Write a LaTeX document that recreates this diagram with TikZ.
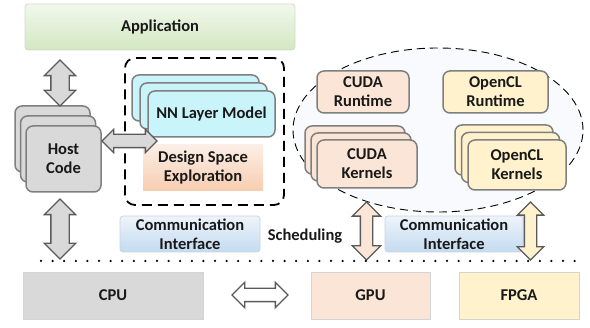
\documentclass[tikz,border=0pt]{standalone}
\usepackage{fontspec}
\setmainfont{Carlito}
\usepackage{tikz}
\usetikzlibrary{shapes.geometric}
\usetikzlibrary{shapes.arrows}
\usetikzlibrary{positioning}
\definecolor{appTop}{HTML}{F1F8EC}
\definecolor{appBottom}{HTML}{D2E8C1}
\definecolor{appBorder}{HTML}{D3D9CF}
\definecolor{hostBody}{HTML}{D9D9D9}
\definecolor{nnBody}{HTML}{C8F4FA}
\definecolor{cudaBody}{HTML}{FBE5D6}
\definecolor{oclBody}{HTML}{FFF2CC}
\definecolor{dseTop}{HTML}{FCEEE6}
\definecolor{dseBottom}{HTML}{F7CDB0}
\definecolor{commTop}{HTML}{EEF4FB}
\definecolor{commBottom}{HTML}{C3DBF0}
\definecolor{commBorder}{HTML}{C9D3E0}
\definecolor{cardBorder}{HTML}{7F7F7F}
\definecolor{flatBorder}{HTML}{D4D4D4}
\definecolor{arrowBorder}{HTML}{5A5A5A}
\definecolor{cloudBody}{HTML}{F8FAFD}
\tikzstyle{card} = [rectangle, rounded corners=7pt, draw=cardBorder, line width=1.5pt, align=center]
\tikzstyle{flat} = [rectangle, draw=flatBorder, line width=0.7pt, align=center]
\tikzstyle{fatarrow} = [double arrow, draw=arrowBorder, line width=1.3pt, inner xsep=0pt,
        double arrow head indent=0pt]

\begin{document}
\begin{tikzpicture}[
            x=1pt, y=-1pt,
            every node/.style={font=\fontsize{16.5}{19}\selectfont\bfseries, text=black!90},
            ]
            \useasboundingbox (0,0) rectangle (590,328);
            \node [flat, rounded corners=3pt, draw=appBorder, top color=appTop, bottom color=appBottom,
                minimum width=270pt, minimum height=46pt] (app) at (160,27) {Application};
            \node [rectangle, rounded corners=10pt, draw=black, line width=1.8pt, dash pattern=on 10pt off 6pt,
                minimum width=159pt, minimum height=147pt] (dse-group) at (204.5,131.5) {};
            \node [ellipse, draw=black, fill=cloudBody, line width=0.9pt, dash pattern=on 8pt off 5pt,
                minimum width=290pt, minimum height=164pt] (devices) at (438,130) {};
            \node [card, fill=hostBody, minimum width=75pt, minimum height=66pt] (host-3) at (52.5,139) {};
            \node [card, fill=hostBody, minimum width=75pt, minimum height=66pt] (host-2) at (58,149) {};
            \node [card, fill=hostBody, minimum width=75pt, minimum height=66pt] (host) at (63.5,159) {Host\\Code};
            \node [card, fill=nnBody, minimum width=127pt, minimum height=46pt] (nn-3) at (195.5,98) {};
            \node [card, fill=nnBody, minimum width=127pt, minimum height=46pt] (nn-2) at (203.5,106) {};
            \node [card, fill=nnBody, minimum width=127pt, minimum height=46pt] (nn) at (211.5,114) {NN Layer Model};
            \node [flat, draw=none, top color=dseTop, bottom color=dseBottom,
                minimum width=120pt, minimum height=46pt] (dse) at (203,168) {Design Space\\Exploration};
            \node [card, fill=cudaBody, minimum width=92pt, minimum height=42pt] (cuda-rt) at (363,92) {CUDA\\Runtime};
            \node [card, fill=oclBody, minimum width=105pt, minimum height=42pt] (ocl-rt) at (495.5,92) {OpenCL\\Runtime};
            \node [card, fill=cudaBody, minimum width=100pt, minimum height=48pt] (cuda-k-3) at (355,150) {};
            \node [card, fill=cudaBody, minimum width=100pt, minimum height=48pt] (cuda-k-2) at (361,157) {};
            \node [card, fill=cudaBody, minimum width=100pt, minimum height=48pt] (cuda-k) at (367,164) {CUDA\\Kernels};
            \node [card, fill=oclBody, minimum width=98pt, minimum height=50pt] (ocl-k-3) at (504,150) {};
            \node [card, fill=oclBody, minimum width=98pt, minimum height=50pt] (ocl-k-2) at (510.5,157.5) {};
            \node [card, fill=oclBody, minimum width=98pt, minimum height=50pt] (ocl-k) at (517,165) {OpenCL\\Kernels};
            \node [flat, rounded corners=3pt, draw=commBorder, top color=commTop, bottom color=commBottom,
                minimum width=140pt, minimum height=36pt, inner sep=0pt] (comm-host) at (190,234) {Communication\\Interface};
            \node [flat, rounded corners=3pt, draw=commBorder, top color=commTop, bottom color=commBottom,
                minimum width=138pt, minimum height=36pt, inner sep=0pt] (comm-dev) at (454,234) {Communication\\Interface};
            \node (sched) at (305,236) {Scheduling};
            \node [fatarrow, fill=hostBody, rotate=90, inner ysep=8.5pt, double arrow head extend=6.5pt,
                minimum height=46pt] (app-host) at (60,83) {};
            \node [fatarrow, fill=hostBody, rotate=90, inner ysep=8.5pt, double arrow head extend=6.5pt,
                minimum height=60pt] (host-cpu) at (60,229) {};
            \node [fatarrow, fill=hostBody, inner ysep=6pt, double arrow head extend=5pt,
                minimum height=55pt] (host-nn) at (129.5,141) {};
            \node [fatarrow, fill=cudaBody, rotate=90, inner ysep=5.5pt, double arrow head extend=8pt,
                minimum height=58pt] (cuda-gpu) at (366.5,231) {};
            \node [fatarrow, fill=oclBody, rotate=90, inner ysep=5.5pt, double arrow head extend=7pt,
                minimum height=58pt] (ocl-fpga) at (530.5,231) {};
            \draw [line width=2.5pt, dash pattern=on 0pt off 11.6pt, line cap=round] (41,261) -- (578,261);
            \node [flat, fill=hostBody, minimum width=180pt, minimum height=47pt] (cpu) at (113,295.5) {CPU};
            \node [flat, fill=cudaBody, minimum width=119pt, minimum height=47pt] (gpu) at (370.5,295.5) {GPU};
            \node [flat, fill=oclBody, minimum width=120pt, minimum height=47pt] (fpga) at (519,295.5) {FPGA};
            \node [fatarrow, fill=white, inner ysep=6pt, double arrow head extend=6pt,
                minimum height=56pt] (cpu-gpu) at (260,295) {};
        \end{tikzpicture}
\end{document}
